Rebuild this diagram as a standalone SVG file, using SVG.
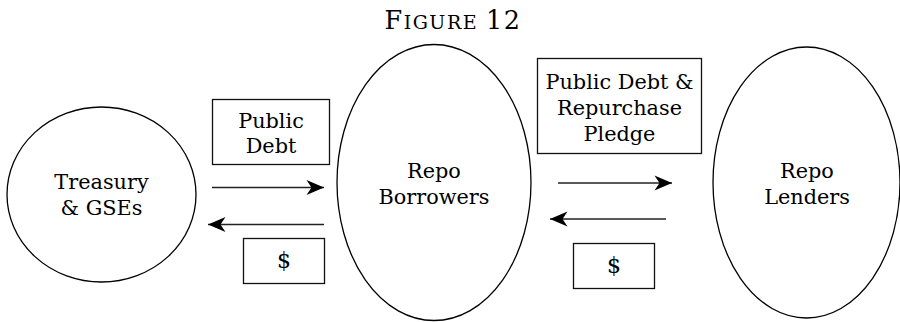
<svg xmlns="http://www.w3.org/2000/svg" width="900" height="322" viewBox="0 0 900 322">
<style>
.node{fill:#fff;stroke:#000;stroke-width:1.3}
.box{fill:#fff;stroke:#111;stroke-width:1.3}
.t{font-family:"DejaVu Serif","Liberation Serif",serif;font-size:20.8px;fill:#000;text-anchor:middle}
.cash{font-size:22px}
.title{font-family:"DejaVu Serif","Liberation Serif",serif;fill:#000;text-anchor:middle}
.conn{stroke:#222;stroke-width:1.4;fill:none}
</style>
<defs>
<marker id="ah" markerUnits="userSpaceOnUse" markerWidth="20" markerHeight="18" viewBox="-19 -9 20 18" refX="0" refY="0" orient="auto">
<path d="M0,0 L-17.5,-7.5 L-12.5,0 L-17.5,7.5 Z" fill="#000"/>
</marker>
</defs>
<rect width="900" height="322" fill="#fff"/>
<text class="title" x="453" y="29" letter-spacing="1.5"><tspan font-size="25.5">F</tspan><tspan font-size="19">IGURE</tspan><tspan font-size="25.5" dx="8">12</tspan></text>
<g id="treasury">
<ellipse class="node" cx="101.5" cy="194.5" rx="94.5" ry="87.5"/>
<text class="t" x="101.5" y="189">Treasury</text>
<text class="t" x="101.5" y="215">&amp; GSEs</text>
</g>
<g id="borrowers">
<ellipse class="node" cx="434" cy="182.5" rx="97" ry="138"/>
<text class="t" x="434" y="178">Repo</text>
<text class="t" x="434" y="204">Borrowers</text>
</g>
<g id="lenders">
<ellipse class="node" cx="806.5" cy="182.5" rx="93.5" ry="135.5"/>
<text class="t" x="807" y="178">Repo</text>
<text class="t" x="807" y="204">Lenders</text>
</g>
<g id="label-public-debt">
<rect class="box" x="212.5" y="99.5" width="117" height="65"/>
<text class="t" x="271" y="128">Public</text>
<text class="t" x="271" y="153">Debt</text>
</g>
<g id="label-pledge">
<rect class="box" x="537.5" y="58.5" width="164" height="95"/>
<text class="t" x="619.5" y="89">Public Debt &amp;</text>
<text class="t" x="619.5" y="115">Repurchase</text>
<text class="t" x="619.5" y="141">Pledge</text>
</g>
<g id="label-cash-1">
<rect class="box" x="243.5" y="238.5" width="81" height="45"/>
<text class="t cash" x="284" y="268">$</text>
</g>
<g id="label-cash-2">
<rect class="box" x="573.5" y="243.5" width="81" height="45"/>
<text class="t cash" x="614" y="273">$</text>
</g>
<g id="connectors">
<line class="conn" x1="212" y1="187.5" x2="324" y2="187.5" marker-end="url(#ah)"/>
<line class="conn" x1="324" y1="224.5" x2="208" y2="224.5" marker-end="url(#ah)"/>
<line class="conn" x1="558" y1="183" x2="672" y2="183" marker-end="url(#ah)"/>
<line class="conn" x1="666" y1="219" x2="550" y2="219" marker-end="url(#ah)"/>
</g>
</svg>
